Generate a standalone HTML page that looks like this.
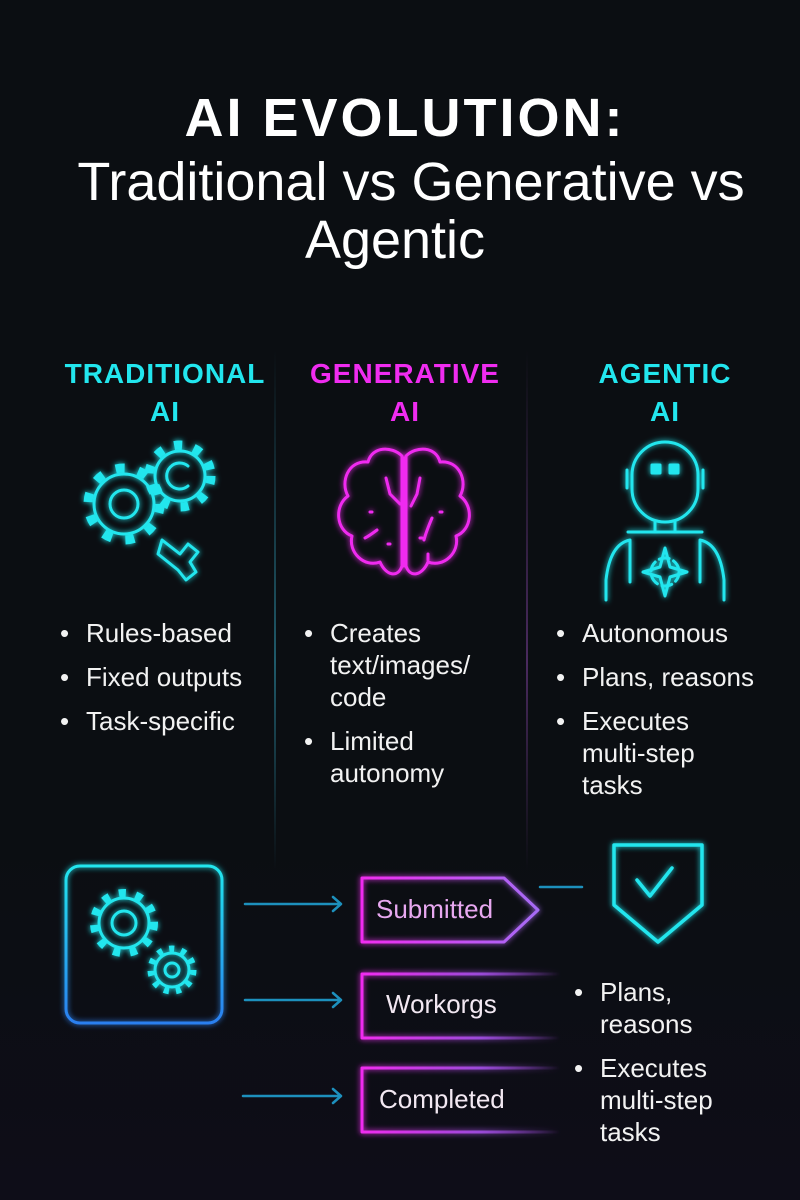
<!DOCTYPE html>
<html><head><meta charset="utf-8"><style>
*{margin:0;padding:0}
body{width:800px;height:1200px;background:#0b0e12;position:relative;overflow:hidden;font-family:"Liberation Sans",sans-serif;color:#fff}
.t{position:absolute;white-space:nowrap}
.c{text-align:center}
.h{font-weight:bold;font-size:28px;line-height:38px;text-align:center;position:absolute;letter-spacing:1px}
.b{position:absolute;font-size:26px;line-height:32px;color:#f2f2f2}
.b div{position:relative;padding-left:26px;margin-bottom:12px}
.b div:before{content:"•";position:absolute;left:0;top:0}
</style></head><body>
<div style="position:absolute;left:0;top:830px;width:800px;height:370px;background:linear-gradient(#0b0e12,#0e0d18)"></div>
<div class="t c" style="left:0;width:810px;top:88px;font-size:54px;font-weight:bold;line-height:60px;letter-spacing:3px">AI EVOLUTION:</div>
<div class="t c" style="left:0;width:822px;top:153px;font-size:54px;line-height:58px">Traditional vs Generative vs</div>
<div class="t c" style="left:0;width:790px;top:211px;font-size:54px;line-height:58px">Agentic</div>
<div style="position:absolute;left:274px;top:350px;width:2px;height:520px;background:linear-gradient(transparent,#1f5a6a 60%,transparent)"></div>
<div style="position:absolute;left:526px;top:350px;width:2px;height:520px;background:linear-gradient(transparent,#4a2a5e 60%,transparent)"></div>
<div class="h" style="left:40px;width:250px;top:355px;color:#22e6ee">TRADITIONAL<br>AI</div>
<div class="h" style="left:280px;width:250px;top:355px;color:#f02cf0">GENERATIVE<br>AI</div>
<div class="h" style="left:540px;width:250px;top:355px;color:#22e6ee">AGENTIC<br>AI</div>
<svg width="800" height="1200" style="position:absolute;left:0;top:0" fill="none" stroke-linecap="round" stroke-linejoin="round">
<defs><filter id="g"><feGaussianBlur stdDeviation="3" result="b"/><feMerge><feMergeNode in="b"/><feMergeNode in="SourceGraphic"/></feMerge></filter>
<linearGradient id="pg" x1="0" x2="1"><stop offset="0" stop-color="#f02cf0"/><stop offset="1" stop-color="#a56cf5"/></linearGradient>
<linearGradient id="pf" x1="0" x2="1"><stop offset="0" stop-color="#f02cf0"/><stop offset=".6" stop-color="#9a4ad8"/><stop offset="1" stop-color="#9a4ad8" stop-opacity="0"/></linearGradient>
<linearGradient id="bg" x1="0" y1="0" x2="0" y2="1"><stop offset="0" stop-color="#22e6ee"/><stop offset="1" stop-color="#2a7ff0"/></linearGradient></defs>
<g stroke="#22e6ee" stroke-width="3" filter="url(#g)">
<circle cx="124" cy="504" r="30"/><circle cx="124" cy="504" r="36" stroke-width="9" stroke-dasharray="9 14" stroke-linecap="butt"/><circle cx="124" cy="504" r="14"/>
<circle cx="180" cy="476" r="25"/><circle cx="180" cy="476" r="31" stroke-width="9" stroke-dasharray="8 12" stroke-linecap="butt"/><path d="M188 466a13 13 0 1 0 0 20"/>
<path d="M162 540l18 14 8-10 10 8-8 10 6 10-10 8-8-10-20-16z"/>
<circle cx="124" cy="923" r="25"/><circle cx="124" cy="923" r="30" stroke-width="8" stroke-dasharray="7 10" stroke-linecap="butt"/><circle cx="124" cy="923" r="12"/>
<circle cx="172" cy="970" r="17"/><circle cx="172" cy="970" r="21" stroke-width="7" stroke-dasharray="5 7" stroke-linecap="butt"/><circle cx="172" cy="970" r="7"/>
<rect x="66" y="866" width="156" height="157" rx="14" stroke="url(#bg)"/>
<path d="M614 845h88v60l-44 37-44-37z" stroke-width="3.5"/><path d="M637 880l13 16 22-28" stroke-width="3.5"/>
<rect x="632" y="442" width="66" height="80" rx="33"/><rect x="652" y="465" width="8" height="8" fill="#22e6ee"/><rect x="670" y="465" width="8" height="8" fill="#22e6ee"/>
<path d="M627 470v18M703 470v18M655 522v10M675 522v10M628 532h74M630 540q-20 4-24 40v20M700 540q20 4 24 40v20M630 540v42M700 540v42"/>
<path d="M665 548l5 19 17 5-17 5-5 19-5-19-17-5 17-5z"/>
<circle cx="665" cy="572" r="14" stroke-dasharray="10 5"/>
</g>
<g stroke="#f02cf0" stroke-width="3" filter="url(#g)">
<path d="M402 456c-10-10-30-10-34 6-20-2-28 20-20 34-14 10-12 34 4 40-4 16 12 32 28 26 6 14 18 16 22 4z"/>
<path d="M406 456c10-10 30-10 34 6 20-2 28 20 20 34 14 10 12 34-4 40 4 16-12 32-28 26-6 14-18 16-22 4z"/>
<path d="M404 458v108M386 478l4 16 10 10M420 478l-3 16-6 12M370 512h2M377 530q-8 6-12 8M432 518q-6 14-8 22M440 512h2M388 544h2M420 538h2M428 560v-6"/>
</g>
<g stroke="#1f9fcf" stroke-width="2.5" opacity=".9">
<path d="M245 904h96M333 897l8 7-8 7M245 1000h96M333 993l8 7-8 7M243 1096h98M333 1089l8 7-8 7M540 887h42" />
</g>
<g stroke-width="3" filter="url(#g)">
<path d="M362 878h142l34 32-34 32h-142z" stroke="url(#pg)"/>
<path d="M560 974h-198v64h198" stroke="url(#pf)"/>
<path d="M560 1068h-198v64h198" stroke="url(#pf)"/>
</g>
</svg>
<div class="b" style="left:60px;top:617px"><div>Rules-based</div><div>Fixed outputs</div><div>Task-specific</div></div>
<div class="b" style="left:304px;top:617px"><div>Creates<br>text/images/<br>code</div><div>Limited<br>autonomy</div></div>
<div class="b" style="left:556px;top:617px"><div>Autonomous</div><div>Plans, reasons</div><div>Executes<br>multi-step<br>tasks</div></div>
<div class="t" style="left:376px;top:894px;font-size:26px;color:#e8a8f0">Submitted</div>
<div class="t" style="left:386px;top:989px;font-size:26px;color:#f2e8f2">Workorgs</div>
<div class="t" style="left:379px;top:1084px;font-size:26px;color:#f2e8f2">Completed</div>
<div class="b" style="left:574px;top:976px"><div>Plans,<br>reasons</div><div>Executes<br>multi-step<br>tasks</div></div>
</body></html>
